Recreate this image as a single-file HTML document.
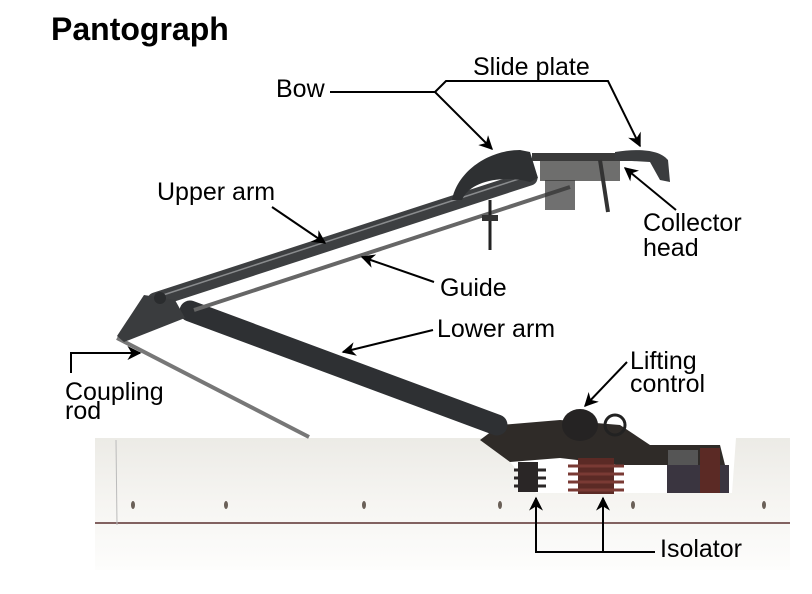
<!DOCTYPE html>
<html><head><meta charset="utf-8"><style>
html,body{margin:0;padding:0;background:#fff;}
svg{display:block;}
text{font-family:"Liberation Sans",Arial,sans-serif;fill:#000;}
</style></head><body>
<svg width="812" height="594" viewBox="0 0 812 594" xmlns="http://www.w3.org/2000/svg">
<defs>
<marker id="a" viewBox="0 0 10 10" refX="9" refY="5" markerWidth="7" markerHeight="7" orient="auto-start-reverse"><path d="M0,0 L10,5 L0,10 L3,5 z" fill="#000"/></marker>
<linearGradient id="roof" x1="0" y1="0" x2="0" y2="1"><stop offset="0" stop-color="#ecebe6"/><stop offset="0.5" stop-color="#f6f5f2"/><stop offset="1" stop-color="#fdfdfc"/></linearGradient>
<linearGradient id="arm" x1="0" y1="0" x2="0" y2="1"><stop offset="0" stop-color="#55585a"/><stop offset="1" stop-color="#2a2c2e"/></linearGradient>
</defs>

<text x="51" y="40" font-size="32" font-weight="bold">Pantograph</text>

<!-- roof -->
<path d="M95,438 L490,438 L536,493 L732,493 L736,438 L790,438 L790,570 L95,570 Z" fill="url(#roof)"/>
<line x1="95" y1="523" x2="790" y2="523" stroke="#5a3030" stroke-width="1.5"/>
<line x1="116" y1="440" x2="117" y2="525" stroke="#bbb" stroke-width="1"/>
<g fill="#6a6058">
<ellipse cx="133" cy="505" rx="2" ry="4"/><ellipse cx="226" cy="505" rx="2" ry="4"/><ellipse cx="364" cy="505" rx="2" ry="4"/><ellipse cx="500" cy="505" rx="2" ry="4"/><ellipse cx="633" cy="505" rx="2" ry="4"/><ellipse cx="764" cy="505" rx="2" ry="4"/>
</g>

<!-- machinery in cutout -->
<path d="M480,440 L500,425 L560,420 L620,425 L650,445 L720,445 L725,465 L620,465 L560,458 L510,462 Z" fill="#2f2b28"/>
<g fill="#5b2a25">
<rect x="578" y="458" width="36" height="36"/>
</g>
<g stroke="#7a3a34" stroke-width="3"><line x1="568" y1="466" x2="624" y2="466"/><line x1="568" y1="474" x2="624" y2="474"/><line x1="568" y1="482" x2="624" y2="482"/><line x1="568" y1="490" x2="624" y2="490"/></g>
<rect x="518" y="462" width="20" height="30" fill="#2a2626"/>
<g stroke="#2a2626" stroke-width="3"><line x1="514" y1="470" x2="546" y2="470"/><line x1="514" y1="478" x2="546" y2="478"/><line x1="514" y1="486" x2="546" y2="486"/></g>
<rect x="667" y="465" width="62" height="28" fill="#3a3540"/>
<rect x="700" y="448" width="20" height="45" fill="#5b2a25"/>
<rect x="668" y="450" width="30" height="15" fill="#555"/>
<!-- lifting control -->
<ellipse cx="580" cy="425" rx="18" ry="16" fill="#252323"/>
<circle cx="615" cy="425" r="10" fill="none" stroke="#222" stroke-width="3"/>

<!-- coupling rod -->
<line x1="117" y1="338" x2="309" y2="437" stroke="#777" stroke-width="4"/>
<!-- lower arm -->
<line x1="190" y1="311" x2="497" y2="425" stroke="#2e3033" stroke-width="21" stroke-linecap="round"/>
<!-- guide -->
<line x1="194" y1="310" x2="570" y2="187" stroke="#666" stroke-width="4"/>
<!-- upper arm -->
<line x1="155" y1="300" x2="530" y2="178" stroke="#3d3f41" stroke-width="15" stroke-linecap="round"/>
<line x1="160" y1="296" x2="528" y2="176" stroke="#8a8c8e" stroke-width="1.5"/>
<!-- knee -->
<path d="M144,295 L117,336 L124,342 L185,318 L175,300 Z" fill="#3a3c3e"/>
<circle cx="160" cy="298" r="6" fill="#2a2c2e"/>
<!-- head -->
<path d="M452,200 C458,170 490,150 520,150 L530,152 L538,178 L530,182 C505,175 470,180 462,200 Z" fill="#2e3032"/>
<rect x="532" y="153" width="125" height="8" fill="#3a3a3a"/>
<path d="M615,152 C640,148 660,150 668,160 L670,182 L660,180 L650,162 L615,160 Z" fill="#3a3c3e"/>
<rect x="540" y="161" width="80" height="20" fill="#4a4a48" opacity="0.8"/>
<line x1="600" y1="160" x2="608" y2="212" stroke="#333" stroke-width="4"/>
<line x1="490" y1="200" x2="490" y2="250" stroke="#222" stroke-width="3"/>
<rect x="482" y="215" width="16" height="6" fill="#333"/>
<rect x="545" y="180" width="30" height="30" fill="#333" opacity="0.7"/>

<!-- leaders -->
<g stroke="#000" stroke-width="2" fill="none">
<polyline points="330,92 435,92 492,149" marker-end="url(#a)"/>
<polyline points="435,92 446,81 608,81 640,146" marker-end="url(#a)"/>
<line x1="272" y1="207" x2="325" y2="243" marker-end="url(#a)"/>
<line x1="676" y1="210" x2="625" y2="168" marker-end="url(#a)"/>
<line x1="434" y1="282" x2="362" y2="257" marker-end="url(#a)"/>
<line x1="433" y1="330" x2="343" y2="352" marker-end="url(#a)"/>
<line x1="627" y1="362" x2="585" y2="406" marker-end="url(#a)"/>
<polyline points="71,373 71,353 140,353" marker-end="url(#a)"/>
<polyline points="655,552 536,552 536,498" marker-end="url(#a)"/>
<line x1="603" y1="552" x2="603" y2="498" marker-end="url(#a)"/>
</g>

<g font-size="25">
<text x="276" y="97">Bow</text>
<text x="473" y="75">Slide plate</text>
<text x="157" y="200">Upper arm</text>
<text x="643" y="231">Collector</text>
<text x="643" y="256">head</text>
<text x="440" y="296">Guide</text>
<text x="437" y="337">Lower arm</text>
<text x="630" y="369">Lifting</text>
<text x="630" y="392">control</text>
<text x="65" y="400">Coupling</text>
<text x="65" y="419">rod</text>
<text x="660" y="557">Isolator</text>
</g>
</svg>
</body></html>
